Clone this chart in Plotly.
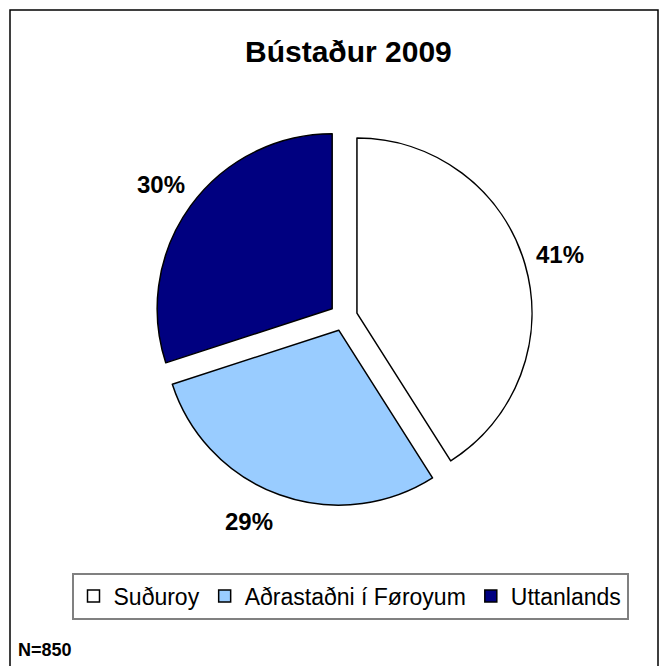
import math
import plotly.graph_objects as go

categories = ["Suðuroy", "Aðrastaðni í Føroyum", "Uttanlands"]
values = [41, 29, 30]
colors = ["#FFFFFF", "#99CCFF", "#000080"]
title_text = "Bústaður 2009"
note_text = "N=850"

# The page body has an 8px margin, so the figure is offset by 8px inside the window
PAGE_W, PAGE_H, OFF = 667, 666, 8
W, H = PAGE_W - OFF, PAGE_H - OFF
FONT = "Liberation Sans, Arial, sans-serif"


def fx(px):
    return (px - OFF) / W


def fy(py):
    return 1 - (py - OFF) / H


# pie geometry (page pixels)
CX, CY, HALF = 343.5, 317.0, 189.0
LABEL_R = 225.0
LABEL_NUDGE_DEG = [0, 5, 0]

fig = go.Figure(go.Pie(
    labels=categories,
    values=values,
    sort=False,
    direction="clockwise",
    rotation=0,
    pull=[0.08, 0.08, 0.08],
    marker=dict(colors=colors, line=dict(color="#000000", width=1.5)),
    textinfo="none",
    hoverinfo="label+percent",
    domain=dict(x=[fx(CX - HALF), fx(CX + HALF)],
                y=[fy(CY + HALF), fy(CY - HALF)]),
    automargin=False,
))

# percentage labels placed at each slice's bisector, derived from the values
total = sum(values)
annotations = []
cum = 0.0
for v, nudge in zip(values, LABEL_NUDGE_DEG):
    mid = (cum + v / 2) / total * 2 * math.pi + math.radians(nudge)
    cum += v
    px = CX + LABEL_R * math.sin(mid)
    py = CY - LABEL_R * math.cos(mid)
    annotations.append(dict(
        text=f"{round(v / total * 100)}%", xref="paper", yref="paper",
        x=fx(px), y=fy(py), xanchor="center", yanchor="middle", showarrow=False,
        font=dict(family=FONT, size=24, color="#000000", weight="bold")))

annotations += [
    dict(text=title_text, xref="paper", yref="paper", x=fx(348), y=fy(52),
         xanchor="center", yanchor="middle", showarrow=False,
         font=dict(family=FONT, size=30, color="#000000", weight="bold")),
    dict(text=note_text, xref="paper", yref="paper", x=fx(16), y=fy(650),
         xanchor="left", yanchor="middle", showarrow=False,
         font=dict(family=FONT, size=18, color="#000000", weight="bold")),
]

fig.update_layout(
    width=W, height=H,
    margin=dict(l=0, r=0, t=0, b=0),
    paper_bgcolor="#FFFFFF",
    plot_bgcolor="#FFFFFF",
    font=dict(family=FONT, color="#000000"),
    showlegend=True,
    legend=dict(
        orientation="h",
        x=fx(350), xanchor="center",
        y=fy(596), yanchor="middle",
        font=dict(family=FONT, size=23, color="#000000"),
        bordercolor="#808080", borderwidth=2,
        bgcolor="#FFFFFF",
        itemwidth=30,
        traceorder="normal",
    ),
    shapes=[dict(type="rect", xref="paper", yref="paper",
                 x0=fx(10), x1=fx(658), y0=fy(690), y1=fy(10),
                 line=dict(color="#000000", width=1.5), fillcolor="rgba(0,0,0,0)")],
    annotations=annotations,
)

fig.write_html("out.html")
